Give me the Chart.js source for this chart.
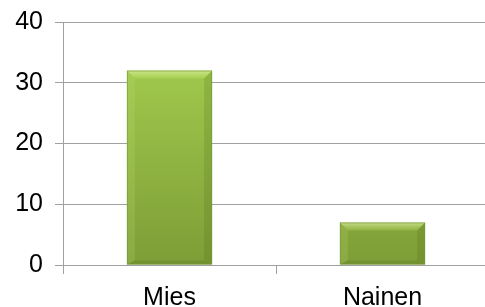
<!DOCTYPE html>
<html>
<head>
<meta charset="utf-8">
<script src="https://cdn.jsdelivr.net/npm/chart.js@4"></script>
<style>
  html, body { margin: 0; padding: 0; background: #fff; overflow: hidden; }
  #wrap { width: 489px; height: 307px; }
</style>
</head>
<body>
<div id="wrap"><canvas id="chart"></canvas></div>
<script>
const categories = ['Mies', 'Nainen'];
const counts = [32, 7];
const yTicks = [0, 10, 20, 30, 40];

// bar fill: vertical green gradient
function barFill(context) {
  const chart = context.chart;
  const area = chart.chartArea;
  if (!area) return '#98c044';
  const g = chart.ctx.createLinearGradient(0, area.top, 0, area.bottom);
  g.addColorStop(0, '#a9d252');
  g.addColorStop(1, '#7d9d36');
  return g;
}

// draws the little bevel on top and sides of each bar
const bevelPlugin = {
  id: 'bevel',
  afterDatasetsDraw(chart) {
    const ctx = chart.ctx;
    chart.getDatasetMeta(0).data.forEach(bar => {
      const left = bar.x - bar.width / 2;
      const right = bar.x + bar.width / 2;
      const top = bar.y;
      const bottom = bar.base;
      const b = 8;
      ctx.save();
      // top bevel
      const tg = ctx.createLinearGradient(0, top, 0, top + b);
      tg.addColorStop(0, 'rgba(225,245,170,0.7)');
      tg.addColorStop(1, 'rgba(200,235,120,0.2)');
      ctx.fillStyle = tg;
      ctx.beginPath();
      ctx.moveTo(left, top);
      ctx.lineTo(right, top);
      ctx.lineTo(right - b, top + b);
      ctx.lineTo(left + b, top + b);
      ctx.closePath();
      ctx.fill();
      // left bevel
      ctx.fillStyle = 'rgba(200,230,130,0.18)';
      ctx.beginPath();
      ctx.moveTo(left, top);
      ctx.lineTo(left + b, top + b);
      ctx.lineTo(left + b, bottom - 4);
      ctx.lineTo(left, bottom);
      ctx.closePath();
      ctx.fill();
      // right bevel
      ctx.fillStyle = 'rgba(70,100,20,0.18)';
      ctx.beginPath();
      ctx.moveTo(right, top);
      ctx.lineTo(right - b, top + b);
      ctx.lineTo(right - b, bottom - 4);
      ctx.lineTo(right, bottom);
      ctx.closePath();
      ctx.fill();
      // bottom bevel
      ctx.fillStyle = 'rgba(70,100,20,0.2)';
      ctx.beginPath();
      ctx.moveTo(left, bottom);
      ctx.lineTo(left + b, bottom - 4);
      ctx.lineTo(right - b, bottom - 4);
      ctx.lineTo(right, bottom);
      ctx.closePath();
      ctx.fill();
      // outline
      ctx.strokeStyle = 'rgba(120,150,60,0.6)';
      ctx.lineWidth = 1;
      ctx.strokeRect(left + 0.5, top + 0.5, bar.width - 1, bottom - top - 1);
      ctx.restore();
    });
  }
};

const font = { family: '"Liberation Sans", Arial, sans-serif', size: 25 };

new Chart(document.getElementById('chart'), {
  type: 'bar',
  data: {
    labels: categories,
    datasets: [{
      data: counts,
      backgroundColor: barFill,
      borderWidth: 0,
      categoryPercentage: 1,
      barPercentage: 0.4
    }]
  },
  options: {
    responsive: true,
    maintainAspectRatio: false,
    animation: false,
    layout: { padding: { top: 22, left: 0, right: 0, bottom: 0 } },
    plugins: {
      legend: { display: false },
      tooltip: { enabled: false }
    },
    scales: {
      x: {
        grid: {
          display: true,
          drawOnChartArea: false,
          drawTicks: true,
          tickLength: 9,
          color: '#a0a0a0'
        },
        border: { display: true, color: '#a0a0a0' },
        ticks: { color: '#000', font: font, padding: 9 },
        afterFit(scale) {
          scale.height = 42;
          scale.paddingLeft = 0;
          scale.paddingRight = 0;
        }
      },
      y: {
        min: 0,
        max: 40,
        afterBuildTicks(scale) {
          scale.ticks = yTicks.map(v => ({ value: v }));
        },
        grid: { color: '#a0a0a0', tickLength: 8 },
        border: { display: true, color: '#a0a0a0' },
        ticks: { color: '#000', font: font, padding: 12 },
        afterFit(scale) {
          scale.width = 63;
          scale.paddingTop = 0;
          scale.paddingBottom = 0;
        }
      }
    }
  },
  plugins: [bevelPlugin]
});
</script>
</body>
</html>
